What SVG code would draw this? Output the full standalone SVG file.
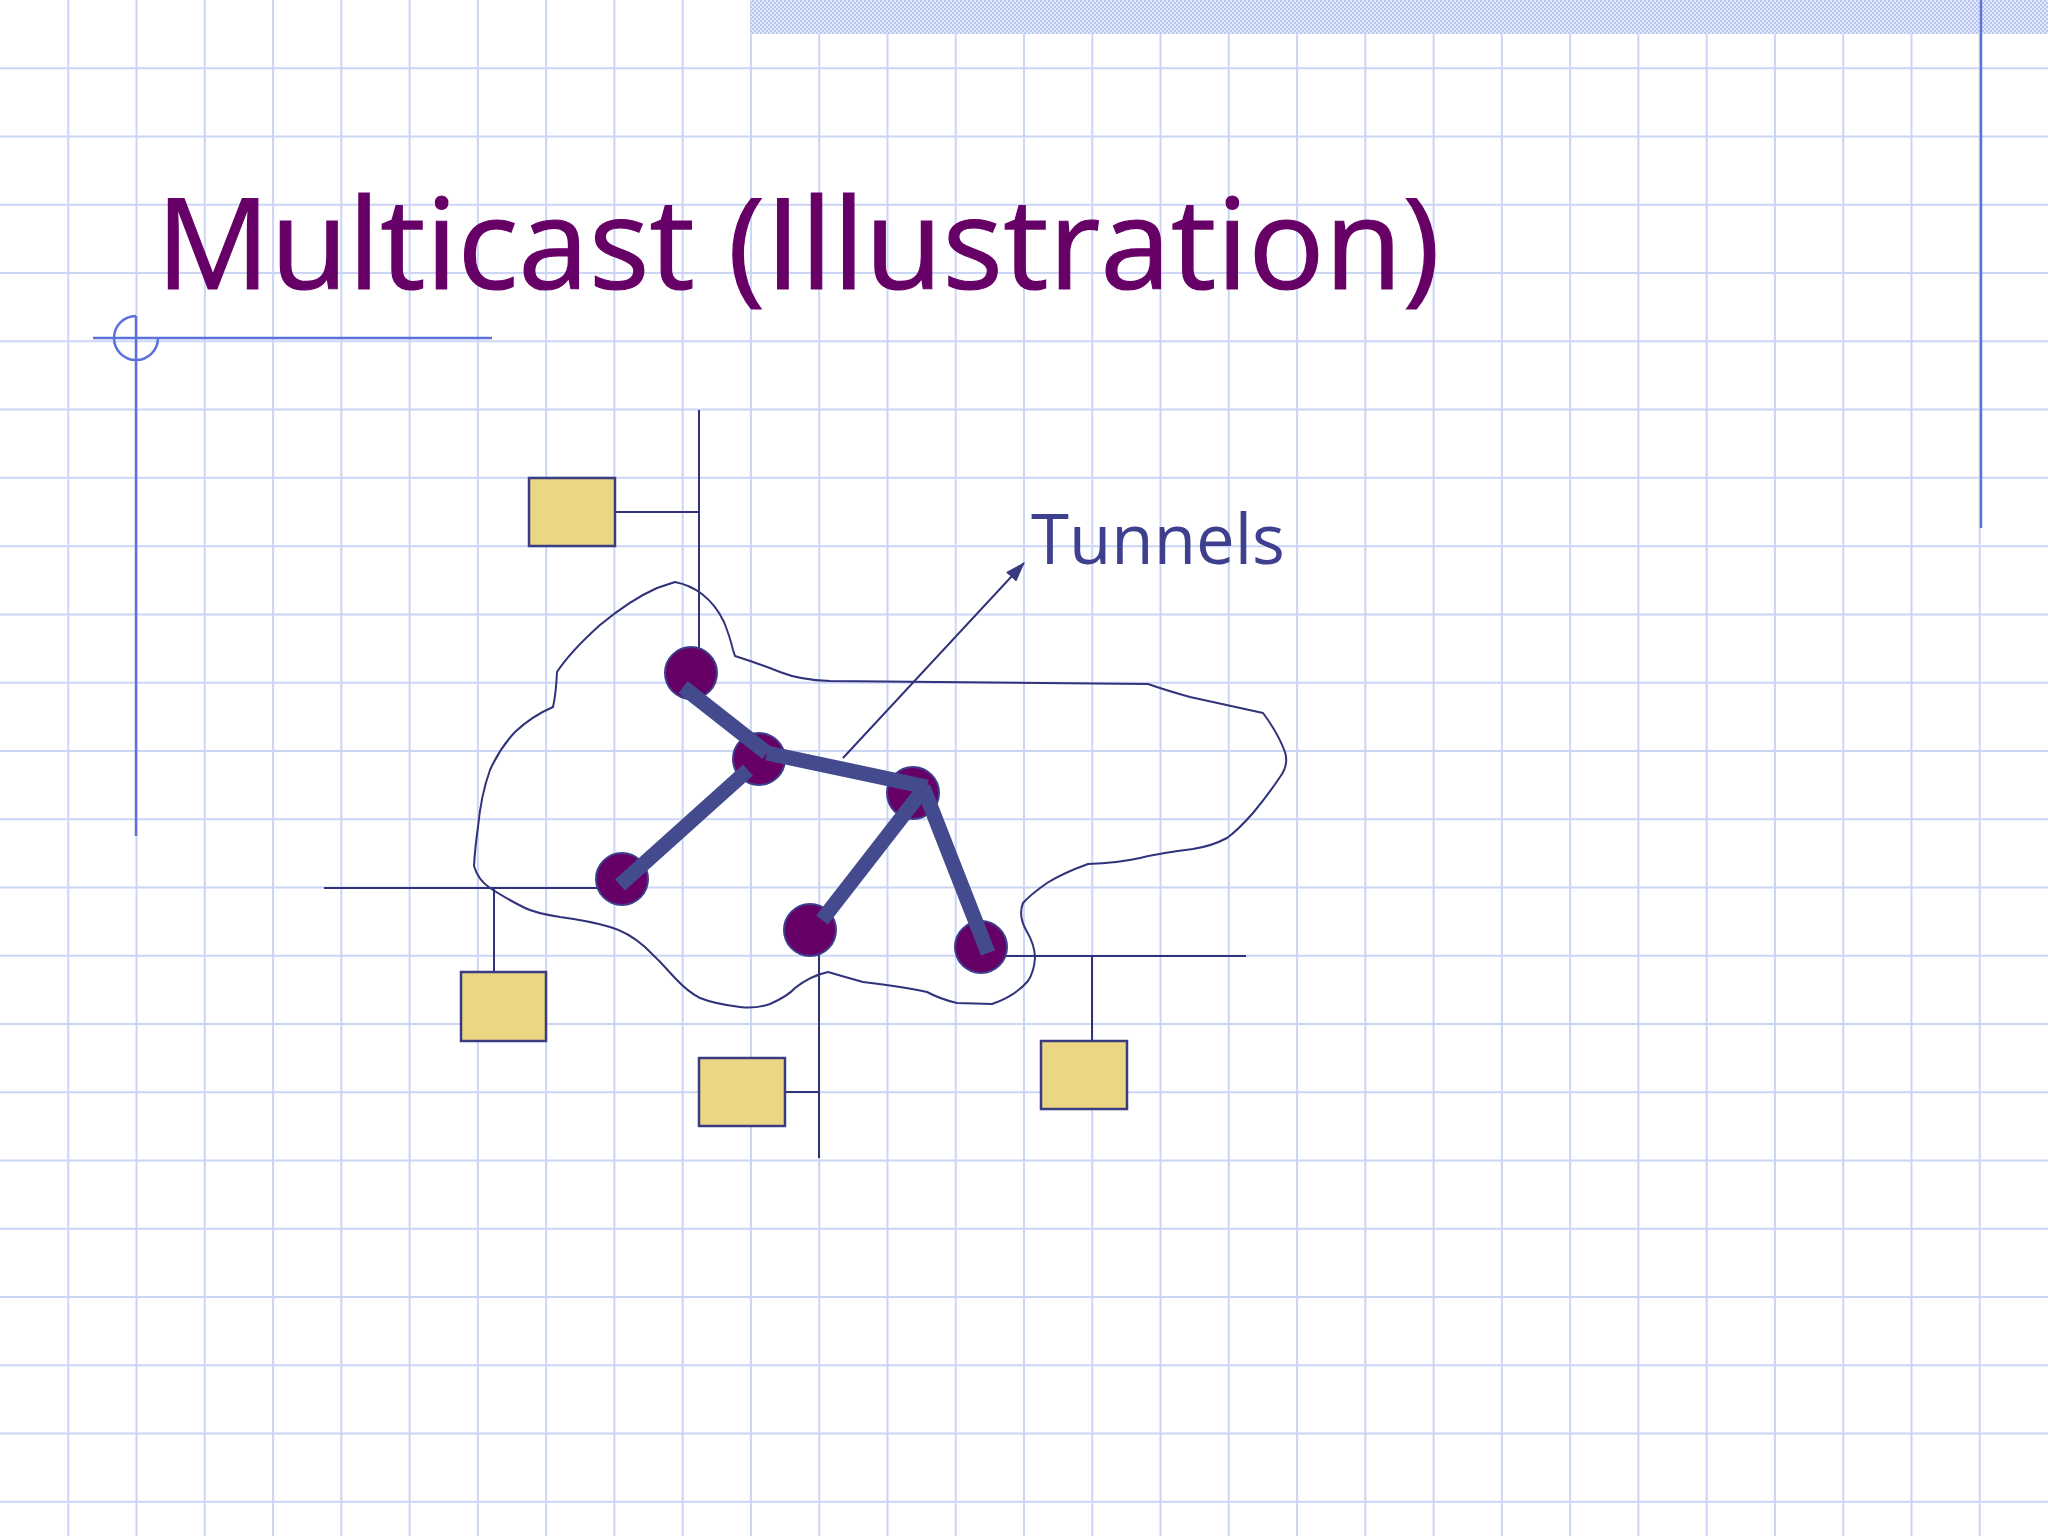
<svg xmlns="http://www.w3.org/2000/svg" width="2048" height="1536" viewBox="0 0 2048 1536">
<style>
.grid{stroke:#cbd5f6;stroke-width:2;fill:none}
.deco{stroke:#5b72dc;stroke-width:2.5;fill:none}
.net{stroke:#30327a;stroke-width:2;fill:none}
.box{fill:#ead683;stroke:#3a3c82;stroke-width:2.5}
.router{fill:#660066;stroke:#3c3f8c;stroke-width:2}
.tree{stroke:#434a8e;stroke-width:15;stroke-linecap:butt;fill:none}
.cloud{stroke:#30327a;stroke-width:2;fill:none;stroke-linejoin:round}
.title{font-family:"Open Sans","Noto Sans",sans-serif;font-size:127px;fill:#660066;stroke:#660066;stroke-width:1.2}
.label{font-family:"Open Sans","Noto Sans",sans-serif;font-size:69px;fill:#3f3f8f}
</style>
<defs>
<pattern id="checks" width="4" height="4" patternUnits="userSpaceOnUse">
<rect width="4" height="4" fill="#e2e8fb"/>
<rect width="2" height="2" fill="#b9c7f1"/>
<rect x="2" y="2" width="2" height="2" fill="#b9c7f1"/>
</pattern>
<marker id="arrow" viewBox="0 0 20 14" refX="19" refY="7" markerWidth="20" markerHeight="14" markerUnits="userSpaceOnUse" orient="auto">
<path d="M0,0 L20,7 L0,14 Z" fill="#3a3a80"/>
</marker>
</defs>
<rect width="2048" height="1536" fill="#ffffff"/>
<g id="grid">
<path class="grid" d="M68.27,0V1536M136.53,0V1536M204.8,0V1536M273.07,0V1536M341.33,0V1536M409.6,0V1536M477.87,0V1536M546.13,0V1536M614.4,0V1536M682.67,0V1536M750.93,0V1536M819.2,0V1536M887.47,0V1536M955.73,0V1536M1024,0V1536M1092.27,0V1536M1160.53,0V1536M1228.8,0V1536M1297.07,0V1536M1365.33,0V1536M1433.6,0V1536M1501.87,0V1536M1570.13,0V1536M1638.4,0V1536M1706.67,0V1536M1774.93,0V1536M1843.2,0V1536M1911.47,0V1536M1979.73,0V1536"/>
<path class="grid" d="M0,68.27H2048M0,136.53H2048M0,204.8H2048M0,273.07H2048M0,341.33H2048M0,409.6H2048M0,477.87H2048M0,546.13H2048M0,614.4H2048M0,682.67H2048M0,750.93H2048M0,819.2H2048M0,887.47H2048M0,955.73H2048M0,1024H2048M0,1092.27H2048M0,1160.53H2048M0,1228.8H2048M0,1297.07H2048M0,1365.33H2048M0,1433.6H2048M0,1501.87H2048"/>
</g>
<rect id="top-band" x="751" y="0" width="1297" height="34" fill="url(#checks)"/>
<g id="decoration">
<line class="deco" x1="1981" y1="0" x2="1981" y2="528"/>
<line class="deco" x1="93" y1="338" x2="492" y2="338"/>
<line class="deco" x1="136" y1="316" x2="136" y2="836"/>
<path class="deco" d="M136,316 A22,22 0 1 0 158,338"/>
</g>
<text id="title" class="title" x="156" y="289">Multicast (Illustration)</text>
<path id="cloud" class="cloud" d="M675,582 Q690,585 702,594 Q716,605 724,622 Q730,637 733,650 L735,656 Q760,664 780,672 Q800,680 830,681 L1148,684 Q1165,690 1190,697 L1263,713 Q1278,733 1285,752 Q1289,765 1280,777 Q1268,795 1253,813 Q1238,830 1227,838 Q1212,846 1193,849 Q1160,853 1140,858 Q1118,863 1088,864 Q1063,873 1047,883 Q1030,895 1023,903 Q1018,915 1026,930 Q1035,945 1035,958 Q1034,972 1028,981 Q1015,996 992,1004 L957,1003 Q940,999 927,992 Q905,987 863,982 Q845,977 828,972 Q810,976 795,988 Q788,996 770,1004 Q755,1009 740,1007 Q715,1004 700,998 Q688,992 675,978 Q660,961 645,947 Q628,932 610,927 Q590,921 560,917 Q535,913 525,908 Q505,898 490,888 Q478,880 474,866 Q475,848 478,827 Q481,795 490,770 Q500,748 515,732 Q532,716 553,707 Q556,694 557,672 Q570,652 600,625 Q630,600 657,588 Z"/>
<g id="connectors">
<path class="net" d="M699,410 V665 M615,512 H699"/>
<path class="net" d="M324,888 H613 M494,888 V972"/>
<path class="net" d="M819,935 V1158 M785,1092 H819"/>
<path class="net" d="M981,956 H1246 M1092,956 V1041"/>
<line class="net" x1="843" y1="758" x2="1024" y2="563" marker-end="url(#arrow)"/>
</g>
<g id="host-top"><rect class="box" x="529" y="478" width="86" height="68"/></g>
<g id="host-left"><rect class="box" x="461" y="972" width="85" height="69"/></g>
<g id="host-middle"><rect class="box" x="699" y="1058" width="86" height="68"/></g>
<g id="host-right"><rect class="box" x="1041" y="1041" width="86" height="68"/></g>
<g id="router-1"><circle class="router" cx="691" cy="673" r="26"/></g>
<g id="router-2"><circle class="router" cx="759" cy="759" r="26"/></g>
<g id="router-3"><circle class="router" cx="913" cy="793" r="26"/></g>
<g id="router-4"><circle class="router" cx="622" cy="879" r="26"/></g>
<g id="router-5"><circle class="router" cx="810" cy="930" r="26"/></g>
<g id="router-6"><circle class="router" cx="981" cy="947" r="26"/></g>
<g id="tunnels">
<line class="tree" x1="683" y1="687" x2="767" y2="753"/>
<line class="tree" x1="767" y1="753" x2="927" y2="787"/>
<line class="tree" x1="748" y1="770" x2="620" y2="885"/>
<line class="tree" x1="923" y1="790" x2="822" y2="920"/>
<line class="tree" x1="923" y1="787" x2="988" y2="953"/>
</g>
<text id="tunnels-label" class="label" x="1031" y="564">Tunnels</text>
</svg>
